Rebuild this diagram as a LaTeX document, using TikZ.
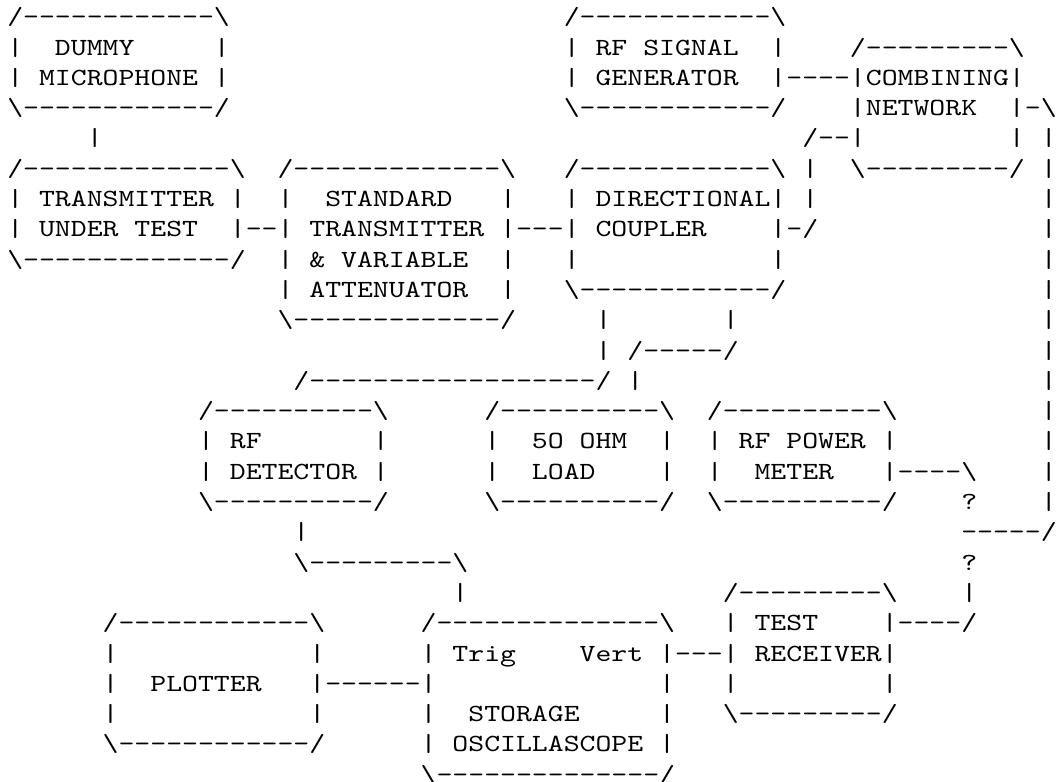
\documentclass[tikz,border=0pt]{standalone}
\usepackage{fontspec}
\newfontfamily\asciifont{lmmono10-regular.otf}[FakeStretch=1.2278]
\usepackage{tikz}

% one ASCII box: name, column, top row, its lines
\newcommand{\asciibox}[4]{%
  \foreach \txt [count=\k from 0] in {#4}
    \node[asc] (#1\k) at (#2,#3+\k) {\txt};}

\begin{document}
\begin{tikzpicture}[
  x=11.925pt, y=-22.725pt,
  asc/.style={font=\asciifont\fontsize{18.5pt}{22.725pt}\selectfont, inner sep=0pt, anchor=base west}
]
  \useasboundingbox (-0.4403,-0.8152) rectangle (66.226,24.961);

  % Boxes
  \asciibox{mic}{0}{0}{/------------\textbackslash, |~~DUMMY~~~~~|, |~MICROPHONE~|, \textbackslash------------/}
  \asciibox{sig}{35}{0}{/------------\textbackslash, |~RF~SIGNAL~~|, |~GENERATOR~~|, \textbackslash------------/}
  \asciibox{comb}{53}{1}{/---------\textbackslash, |COMBINING|, |NETWORK~~|, |~~~~~~~~~|, \textbackslash---------/}
  \asciibox{tx}{0}{5}{/-------------\textbackslash, |~TRANSMITTER~|, |~UNDER~TEST~~|, \textbackslash-------------/}
  \asciibox{std}{17}{5}{/-------------\textbackslash, |~~STANDARD~~~|, |~TRANSMITTER~|, |~\&~VARIABLE~~|, |~ATTENUATOR~~|, \textbackslash-------------/}
  \asciibox{dc}{35}{5}{/------------\textbackslash, |~DIRECTIONAL|, |~COUPLER~~~~|, |~~~~~~~~~~~~|, \textbackslash------------/}
  \asciibox{det}{12}{13}{/----------\textbackslash, |~RF~~~~~~~|, |~DETECTOR~|, \textbackslash----------/}
  \asciibox{load}{30}{13}{/----------\textbackslash, |~~5O~OHM~~|, |~~LOAD~~~~|, \textbackslash----------/}
  \asciibox{pm}{44}{13}{/----------\textbackslash, |~RF~POWER~|, |~~METER~~~|, \textbackslash----------/}
  \asciibox{rx}{45}{19}{/---------\textbackslash, |~TEST~~~~|, |~RECEIVER|, |~~~~~~~~~|, \textbackslash---------/}
  \asciibox{plot}{6}{20}{/------------\textbackslash, |~~~~~~~~~~~~|, |~~PLOTTER~~~|, |~~~~~~~~~~~~|, \textbackslash------------/}
  \asciibox{osc}{26}{20}{/--------------\textbackslash, |~Trig~~~~Vert~|, |~~~~~~~~~~~~~~|, |~~STORAGE~~~~~|, |~OSCILLASCOPE~|, \textbackslash--------------/}

  % Links between boxes
  \node[asc] (mictx)   at (5,4)   {|};
  \node[asc] (txstd)   at (15,7)  {--};
  \node[asc] (stddc)   at (32,7)  {---};
  \node[asc] (sigcomb) at (49,2)  {----};
  \node[asc] (dcup1)   at (49,7)  {-/};
  \node[asc] (dcup2)   at (50,6)  {|};
  \node[asc] (dcup3)   at (50,5)  {|};
  \node[asc] (dcup4)   at (50,4)  {/--};

  % Loop from combining network down to the receiver
  \node[asc] (loop0) at (64,3) {-\textbackslash};
  \foreach \r in {4,...,16}
    \node[asc] (loop\r) at (65,\r) {|};
  \node[asc] (loop17) at (60,17) {-----/};
  \node[asc] (ask2)   at (60,18) {?};
  \node[asc] (loop19) at (60,19) {|};
  \node[asc] (rxloop) at (56,20) {----/};
  \node[asc] (pmout)  at (56,15) {----\textbackslash};
  \node[asc] (ask1)   at (60,16) {?};

  % Coupler outputs to detector and load
  \node[asc] (dcdet1)  at (37,10) {|};
  \node[asc] (dcdet2)  at (37,11) {|};
  \node[asc] (dcdet3)  at (18,12) {/------------------/};
  \node[asc] (dcload1) at (45,10) {|};
  \node[asc] (dcload2) at (39,11) {/-----/};
  \node[asc] (dcload3) at (39,12) {|};

  % Detector, plotter and receiver to the oscilloscope
  \node[asc] (detosc1) at (18,17) {|};
  \node[asc] (detosc2) at (18,18) {\textbackslash---------\textbackslash};
  \node[asc] (detosc3) at (28,19) {|};
  \node[asc] (plotosc) at (20,22) {------};
  \node[asc] (oscrx)   at (42,21) {---};
\end{tikzpicture}
\end{document}
